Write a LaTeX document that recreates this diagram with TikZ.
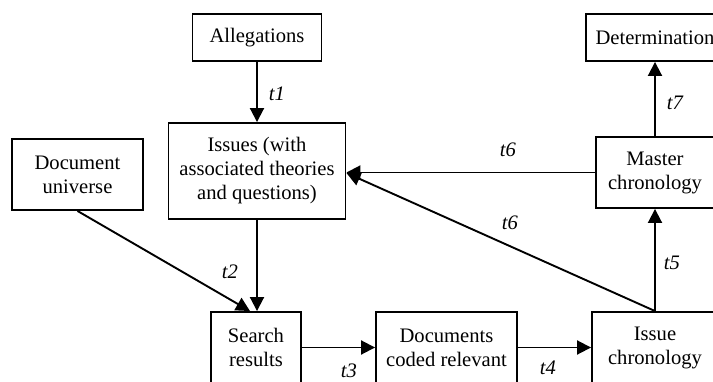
\documentclass[tikz,border=0pt]{standalone}
\usepackage{fontspec}
\setmainfont{Liberation Serif}
\usetikzlibrary{arrows.meta,positioning,calc}

\begin{document}
\begin{tikzpicture}[x=1pt, y=1pt,
		box/.style={draw, rectangle, line width=1.9pt, align=center, inner sep=0pt,
			font=\fontsize{20.6}{24}\selectfont},
		arr/.style={line width=1.9pt, -{Triangle[length=14pt, width=14pt]}},
		lbl/.style={inner sep=1pt, font=\fontsize{20.6}{24}\selectfont\itshape}]
				% Page size and crop
				\useasboundingbox (0,0) rectangle (713,381);
				\clip (0,0) rectangle (713,381);
				
				% Draw the boxes
				\node[box, minimum width=129pt, minimum height=47pt] (alleg) at (257,343.5) {Allegations};
				\node[box, minimum width=177pt, minimum height=96pt] (issues) at (257,210) {Issues (with\\associated theories\\and questions)};
				\node[box, minimum width=131pt, minimum height=71pt] (docuni) at (77.5,206.5) {Document\\universe};
				\node[box, minimum width=90pt, minimum height=71pt] (search) at (256,33.5) {Search\\results};
				\node[box, minimum width=141pt, minimum height=71pt] (coded) at (446.5,33.5) {Documents\\coded relevant};
				\node[box, minimum width=126pt, minimum height=71pt] (issuechron) at (655,33.5) {Issue\\chronology};
				\node[box, minimum width=118pt, minimum height=71pt] (master) at (655,208.5) {Master\\chronology};
				\node[box, minimum width=138pt, minimum height=47pt] (determ) at (655,343.5) {Determination};
				
				% Draw connections
				\draw[arr] (alleg) -- (issues);
				\draw[arr] (issues.south) -- (issues.south |- search.north);
				\draw[arr] (docuni.south) -- ([xshift=-6pt]search.north);
				\draw[arr] (search) -- (coded);
				\draw[arr] (coded) -- (issuechron);
				\draw[arr] (issuechron) -- (master);
				\draw[arr] (master) -- (determ);
				\draw[arr] (master.west) -- (master.west -| issues.east);
				\draw[arr] (issuechron.north) -- ([yshift=-2pt]issues.east);
				
				% Add labels
				\node[lbl] (lt1) at (277,287) {t1};
				\node[lbl] (lt2) at (230,109) {t2};
				\node[lbl] (lt3) at (349,10) {t3};
				\node[lbl] (lt4) at (548,13) {t4};
				\node[lbl] (lt5) at (672,118) {t5};
				\node[lbl] (lt6a) at (508,231) {t6};
				\node[lbl] (lt6b) at (510,158) {t6};
				\node[lbl] (lt7) at (675,278) {t7};
			\end{tikzpicture}
\end{document}
